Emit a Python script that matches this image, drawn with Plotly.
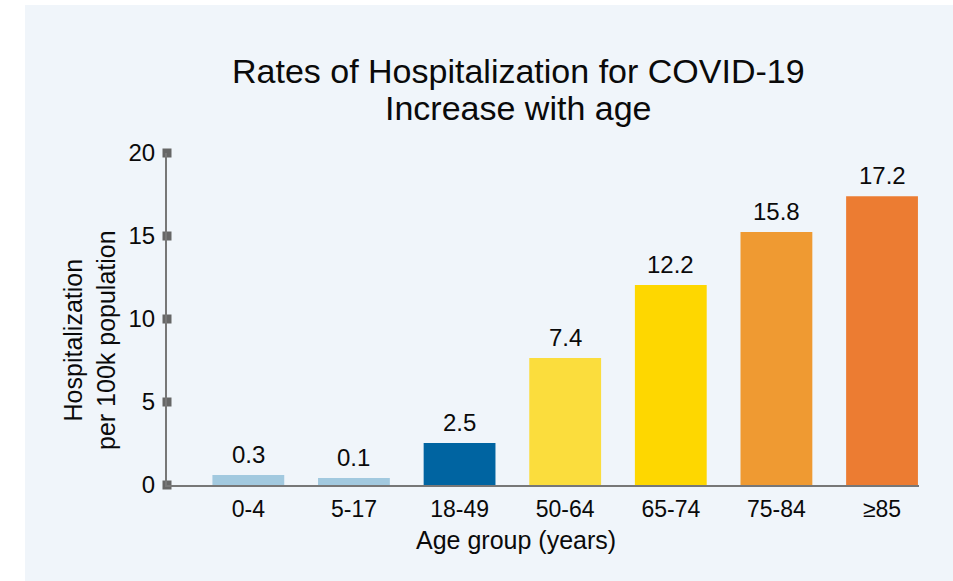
import plotly.graph_objects as go

categories = ["0-4", "5-17", "18-49", "50-64", "65-74", "75-84", "≥85"]
bar_heights = [0.6, 0.42, 2.53, 7.65, 12.05, 15.24, 17.4]
label_text = ["0.3", "0.1", "2.5", "7.4", "12.2", "15.8", "17.2"]
bar_colors = ["#A2C9DF", "#A2C9DF", "#0064A1", "#FBDD3D", "#FED700", "#EF9A32", "#EC7C32"]
y_ticks = [0, 5, 10, 15, 20]
title_lines = ["Rates of Hospitalization for COVID-19", "Increase with age"]

FONT = "Liberation Sans, Arial, sans-serif"
INK = "#0A0A0A"

W, H = 953, 581
L, R, T, B = 167, 34, 153, 96
pw, ph = W - L - R, H - T - B

def px(x):
    return (x - L) / pw

def py(y):
    return (H - B - y) / ph

fig = go.Figure()
fig.add_trace(go.Bar(
    x=list(range(len(categories))), y=bar_heights,
    marker=dict(color=bar_colors, line=dict(width=0)),
    width=0.68, showlegend=False, hoverinfo="skip",
))
fig.add_trace(go.Scatter(
    x=[-0.77] * len(y_ticks), y=y_ticks, mode="markers",
    marker=dict(symbol="square", size=9, color="#666666"),
    cliponaxis=False, showlegend=False, hoverinfo="skip",
))

annotations = []
for i, (h, t) in enumerate(zip(bar_heights, label_text)):
    annotations.append(dict(
        x=i, y=h, xref="x", yref="y", text=t, showarrow=False,
        xanchor="center", yanchor="bottom", yshift=5,
        font=dict(family=FONT, size=24, color=INK),
    ))
for yc, line in zip([71, 108], title_lines):
    annotations.append(dict(
        text=line, xref="paper", yref="paper", x=px(518), y=py(yc),
        xanchor="center", yanchor="middle", showarrow=False,
        font=dict(family=FONT, size=34, color=INK),
    ))
annotations.append(dict(
    text="Age group (years)", xref="paper", yref="paper",
    x=px(516), y=py(540), xanchor="center", yanchor="middle",
    showarrow=False, font=dict(family=FONT, size=25, color=INK),
))
annotations.append(dict(
    text="Hospitalization<br>per 100k population", xref="paper", yref="paper",
    x=px(89), y=py(340), xanchor="center", yanchor="middle",
    textangle=-90, showarrow=False,
    font=dict(family=FONT, size=25, color=INK),
))

fig.update_layout(
    width=W, height=H,
    margin=dict(l=L, r=R, t=T, b=B),
    paper_bgcolor="white", plot_bgcolor="rgba(0,0,0,0)",
    font=dict(family=FONT, color=INK),
    xaxis=dict(
        range=[-0.77, 6.35], tickmode="array",
        tickvals=list(range(len(categories))), ticktext=categories,
        showline=True, linecolor="#777777", linewidth=2,
        showgrid=False, zeroline=False, ticks="",
        tickfont=dict(family=FONT, size=23, color=INK),
        ticklabelstandoff=2,
    ),
    yaxis=dict(
        range=[0, 20], tickmode="array", tickvals=y_ticks,
        showline=True, linecolor="#777777", linewidth=2,
        showgrid=False, zeroline=False, ticks="",
        tickfont=dict(family=FONT, size=24, color=INK),
        ticklabelstandoff=5,
    ),
    shapes=[dict(
        type="rect", xref="paper", yref="paper",
        x0=px(25), x1=px(960), y0=py(590), y1=py(5),
        fillcolor="#F0F5FA", line=dict(width=0), layer="below",
    )],
    annotations=annotations,
)

fig.write_html(
    "out.html",
    config={"displayModeBar": False},
    post_script="document.body.style.margin='0';document.body.style.overflow='hidden';",
)
